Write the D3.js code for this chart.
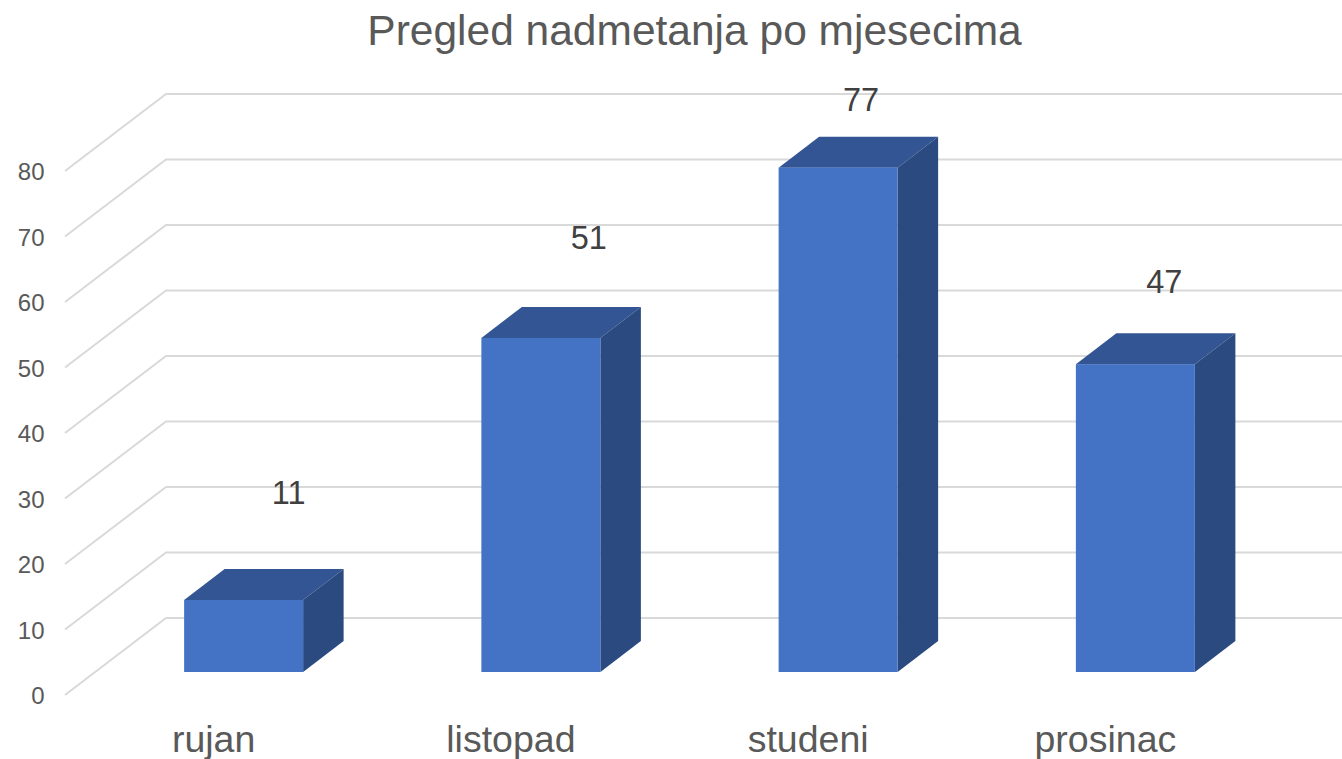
<!DOCTYPE html>
<html><head><meta charset="utf-8">
<script src="https://cdn.jsdelivr.net/npm/d3@7"></script>
<style>html,body{margin:0;padding:0;background:#fff;overflow:hidden}text{font-family:"Liberation Sans",Arial,sans-serif}</style>
</head><body><svg id="c" width="1342" height="759"></svg>
<script>
const categories=["rujan","listopad","studeni","prosinac"];
const values=[11,51,77,47];
const tickValues=[0,10,20,30,40,50,60,70,80];
const titleText="Pregled nadmetanja po mjesecima";
// hand-placed data label centres in the source chart (offset from bar centre / bar top)
const labelDx=[45,48,23,29];
const labelDy=[-96,-89,-57,-71];
const svg=d3.select("#c");
const y=d3.scaleLinear().domain([0,80]).range([695,171]);
const bx=d3.scaleBand().domain(categories).range([95,1284]);
const dx=101,dy=-77;      // wall depth
const bdx=40.5,bdy=-31;   // bar depth
const barW=119,base=672;
const barLeft=c=>bx(c)+bx.bandwidth()/2-barW/2;
const h=v=>y(0)-y(v);
svg.append("text").attr("x",694.5).attr("y",45).attr("text-anchor","middle").attr("font-size",42.5).attr("fill","#595959").text(titleText);
const g=svg.append("g");
tickValues.forEach(t=>{
  g.append("path").attr("d",`M65 ${y(t)}L${65+dx} ${y(t)+dy}H1342`).attr("fill","none").attr("stroke","#d9d9d9").attr("stroke-width",2);
  g.append("text").attr("x",44.5).attr("y",y(t)+9).attr("text-anchor","end").attr("font-size",24).attr("fill","#595959").text(t);
});
categories.forEach((c,i)=>{
  const l=barLeft(c),r=l+barW,t=base-h(values[i]);
  g.append("path").attr("d",`M${l} ${t}H${r}L${r+bdx} ${t+bdy}H${l+bdx}Z`).attr("fill","#335593");
  g.append("path").attr("d",`M${r} ${t}L${r+bdx} ${t+bdy}V${base+bdy}L${r} ${base}Z`).attr("fill","#2a4a80");
  g.append("rect").attr("x",l).attr("y",t).attr("width",barW).attr("height",base-t).attr("fill","#4472c4");
  g.append("text").attr("x",l+barW/2+labelDx[i]).attr("y",t+labelDy[i]).attr("text-anchor","middle").attr("font-size",32.5).attr("fill","#404040").text(values[i]);
  g.append("text").attr("x",l+barW/2-30).attr("y",752).attr("text-anchor","middle").attr("font-size",37.5).attr("fill","#595959").text(c);
});
</script></body></html>
